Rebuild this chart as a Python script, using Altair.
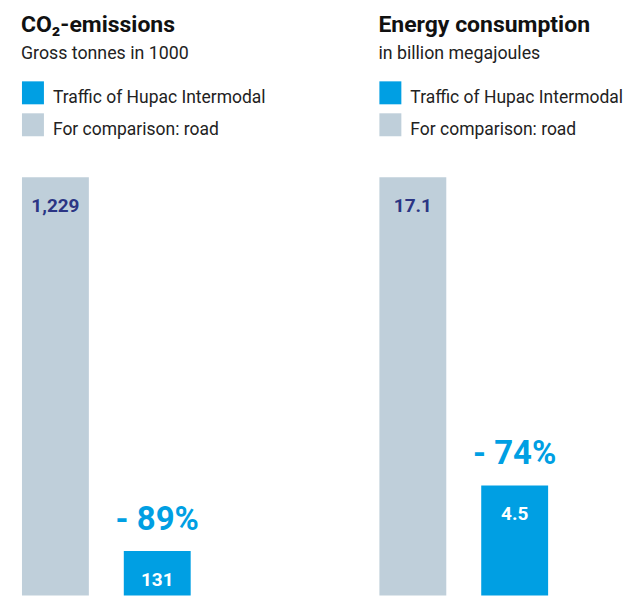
import altair as alt
import pandas as pd

# Series shown as bars (left bar = road, right bar = Hupac)
series = ["For comparison: road", "Traffic of Hupac Intermodal"]
legend_order = ["Traffic of Hupac Intermodal", "For comparison: road"]
legend_colors = ["#009fe3", "#bfcfda"]

co2_values = [1229, 131]
co2_labels = ["1,229", "131"]
energy_values = [17.1, 4.5]
energy_labels = ["17.1", "4.5"]

titles = ["CO₂-emissions", "Energy consumption"]
subtitles = ["Gross tonnes in 1000", "in billion megajoules"]

FONT = "Roboto"
NAVY = "#2b3584"
BLUE = "#009fe3"


def key_entries():
    """Swatch + label rows of the colour key placed under the heading."""
    layers = []
    for i, (name, col) in enumerate(zip(legend_order, legend_colors)):
        top = 81 + 32 * i
        row = alt.Chart(pd.DataFrame({"name": [name]}))
        layers.append(row.mark_rect(color=col).encode(
            x=alt.value(22), x2=alt.value(44), y=alt.value(top), y2=alt.value(top + 23)))
        layers.append(row.mark_text(align="left", baseline="alphabetic", font=FONT,
                                    fontSize=17.5, color="#222222").encode(
            x=alt.value(53), y=alt.value(top + 22), text="name:N"))
    return layers


def panel(values, labels, title, subtitle, width):
    drop = round((1 - values[1] / values[0]) * 100)
    df = pd.DataFrame({
        "series": series,
        "value": values,
        "label": labels,
        "pct": ["", f"- {drop}%"],
    })
    base = alt.Chart(df)
    x = alt.X("series:N", sort=series, axis=None,
              scale=alt.Scale(range=[22, 191], paddingInner=0.343, paddingOuter=0))
    y = alt.Y("value:Q", axis=None,
              scale=alt.Scale(domain=[0, max(values)], range=[596, 177], nice=False))

    bars = base.mark_bar(size=67).encode(
        x=x, y=y,
        color=alt.Color("series:N",
                        scale=alt.Scale(domain=legend_order, range=legend_colors),
                        legend=None),
    )
    value_text = base.mark_text(dy=35, baseline="alphabetic", font=FONT,
                                fontSize=19, fontWeight="bold").encode(
        x=x, y=y, text="label:N",
        color=alt.condition(alt.datum.series == series[0], alt.value(NAVY), alt.value("white")),
    )
    pct_text = base.transform_filter(alt.datum.pct != "").mark_text(
        dy=-21, baseline="alphabetic", font=FONT, fontSize=33, fontWeight="bold", color=BLUE
    ).encode(x=x, y=y, text="pct:N")

    head = alt.Chart(pd.DataFrame({"title": [title], "subtitle": [subtitle]}))
    title_text = head.mark_text(align="left", baseline="alphabetic", font=FONT,
                                fontSize=23, fontWeight="bold", color="#111111").encode(
        x=alt.value(21), y=alt.value(32), text="title:N")
    subtitle_text = head.mark_text(align="left", baseline="alphabetic", font=FONT,
                                   fontSize=17.8, color="#222222").encode(
        x=alt.value(21), y=alt.value(59), text="subtitle:N")

    return alt.layer(bars, value_text, pct_text, title_text, subtitle_text,
                     *key_entries()).properties(width=width, height=596)


left = panel(co2_values, co2_labels, titles[0], subtitles[0], 358)
right = panel(energy_values, energy_labels, titles[1], subtitles[1], 266)

chart = alt.hconcat(left, right, spacing=0).resolve_scale(
    x="independent", y="independent", color="independent"
).properties(padding=0).configure_view(stroke=None)

chart.save("out.html", embed_options={"renderer": "svg", "actions": False})
